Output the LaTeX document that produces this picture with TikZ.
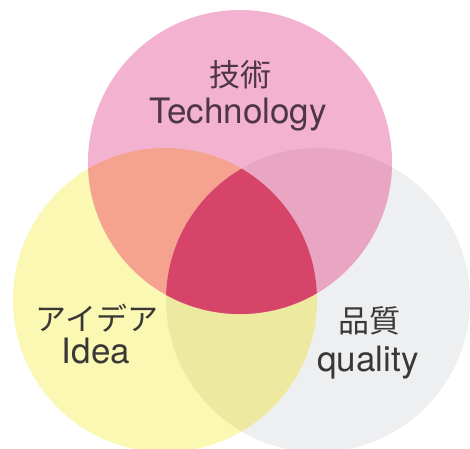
\documentclass[tikz,border=0pt]{standalone}
\usepackage{fontspec}
\setmainfont{TeX Gyre Heros}
\newfontfamily\jpfont{Noto Sans CJK JP}
\definecolor{techpink}{RGB}{242,178,208}
\definecolor{ideayellow}{RGB}{250,248,178}
\definecolor{qualgray}{RGB}{238,239,241}
\definecolor{techidea}{RGB}{245,163,142}
\definecolor{techqual}{RGB}{233,166,195}
\definecolor{ideaqual}{RGB}{238,233,160}
\definecolor{allthree}{RGB}{214,68,106}
\definecolor{techtext}{RGB}{78,54,70}
\definecolor{labeltext}{RGB}{58,56,54}
\tikzset{
  jplabel/.style={font=\jpfont\fontsize{31}{32}\selectfont, text=labeltext, inner sep=0pt},
  enlabel/.style={font=\fontsize{35}{36}\selectfont, text=labeltext, inner sep=0pt, anchor=base}
}
\begin{document}
\begin{tikzpicture}[x=1pt, y=-1pt]
    \useasboundingbox (0,0) rectangle (470,448);
    \fill[white] (0,0) rectangle (470,448);

    % Centres of the three circles
    \coordinate (tech) at (240,162);
    \coordinate (idea) at (165,300);
    \coordinate (qual) at (318,300);

    % Draw the three circles
    \fill[qualgray] (qual) circle (152pt);
    \fill[ideayellow] (idea) circle (152pt);
    \fill[techpink] (tech) circle (152pt);

    % Fill the overlaps
    \begin{scope}
        \clip (idea) circle (152pt);
        \fill[ideaqual] (qual) circle (152pt);
    \end{scope}
    \begin{scope}
        \clip (tech) circle (152pt);
        \fill[techidea] (idea) circle (152pt);
        \fill[techqual] (qual) circle (152pt);
        \clip (idea) circle (152pt);
        \fill[allthree] (qual) circle (152pt);
    \end{scope}

    % Place the labels inside the circles
    \node[jplabel, text=techtext] (techjp) at (240,75) {技術};
    \node[enlabel, text=techtext] (techen) at (238,123) {Technology};
    \node[jplabel] (ideajp) at (97,318) {アイデア};
    \node[enlabel] (ideaen) at (96,363) {Idea};
    \node[jplabel] (qualjp) at (369,321) {品質};
    \node[enlabel] (qualen) at (368,371) {quality};
\end{tikzpicture}
\end{document}
